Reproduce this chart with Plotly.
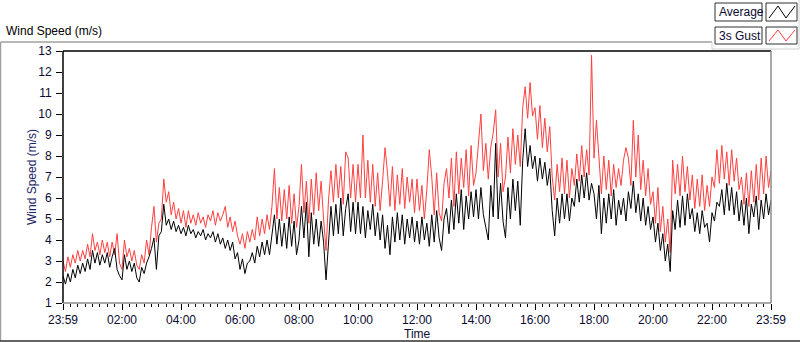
import numpy as np
import plotly.graph_objects as go

# ---------------- data (5-minute samples, 23:59 -> 23:59) ----------------
avg_speed = [
    2.3, 1.9, 2.4, 2.0, 2.6, 2.2, 2.8, 2.4, 2.9, 2.5, 3.1, 2.6,
    3.5, 2.9, 3.4, 2.8, 3.3, 2.9, 3.4, 2.7, 3.2, 3.6, 2.6, 2.3,
    2.1, 3.3, 2.6, 3.0, 2.5, 2.9, 2.2, 2.0, 2.7, 2.4, 2.9, 3.2,
    3.6, 4.1, 2.6, 4.2, 4.4, 5.7, 4.7, 5.0, 4.5, 4.9, 4.4, 4.7,
    4.3, 4.6, 4.2, 4.7, 4.3, 4.5, 4.1, 4.4, 4.2, 4.5, 4.0, 4.3,
    4.1, 4.4, 3.9, 4.3, 3.8, 4.1, 3.6, 4.0, 3.5, 3.9, 3.1, 3.4,
    2.6, 3.1, 2.4, 2.9, 3.0, 3.4, 2.9, 3.7, 3.2, 3.9, 3.3, 4.0,
    3.3, 4.2, 5.2, 3.8, 5.0, 3.7, 4.8, 3.6, 5.1, 3.7, 4.9, 3.3,
    4.0, 5.6, 4.1, 5.8, 3.2, 5.3, 3.8, 5.0, 3.7, 4.9, 3.9, 2.1,
    4.0, 5.6, 4.2, 5.7, 4.3, 6.0, 4.2, 5.5, 6.2, 4.4, 5.8, 4.3,
    5.8, 4.3, 5.6, 4.1, 5.4, 4.5, 5.7, 4.2, 5.3, 4.0, 5.2, 3.6,
    4.7, 3.3, 5.1, 3.9, 5.3, 4.0, 5.2, 3.8, 5.0, 4.1, 5.1, 3.9,
    4.9, 3.8, 5.1, 4.0, 4.8, 3.7, 5.2, 3.9, 5.4, 4.1, 3.5, 5.0,
    5.5, 4.3, 5.9, 4.5, 6.2, 4.8, 6.4, 4.5, 6.1, 5.0, 6.3, 5.1,
    6.4, 5.0, 6.5, 5.2, 4.6, 4.0, 6.6, 5.1, 8.6, 5.0, 6.7, 4.9,
    4.1, 6.5, 5.0, 6.9, 5.4, 6.8, 4.7, 7.8, 9.3, 7.5, 8.5, 7.4,
    8.0, 6.8, 7.9, 6.9, 7.7, 6.6, 7.4, 5.4, 4.2, 6.0, 4.8, 6.2,
    5.0, 6.2, 4.9, 6.0, 5.6, 6.9, 5.8, 7.1, 6.0, 7.2, 5.9, 6.7,
    6.2, 5.0, 6.6, 4.3, 6.0, 4.8, 6.2, 5.0, 6.4, 4.7, 5.9, 5.2,
    6.0, 4.9, 6.3, 5.5, 6.8, 5.3, 6.2, 4.9, 6.0, 4.7, 5.6, 4.5,
    5.1, 3.9, 4.8, 3.5, 4.3, 3.0, 3.8, 2.5, 5.4, 4.5, 5.9, 4.6,
    6.1, 4.7, 6.2, 5.0, 5.5, 4.4, 5.3, 4.3, 5.4, 4.6, 4.8, 3.9,
    5.3, 4.9, 5.8, 5.6, 6.4, 5.2, 6.7, 5.4, 6.5, 5.2, 6.3, 4.9,
    5.9, 4.7, 6.0, 4.3, 5.7, 5.1, 6.1, 4.5, 5.9, 5.0, 6.2, 5.2,
    5.9,
]

gust_speed = [
    3.0, 2.5, 3.2, 2.7, 3.3, 2.9, 3.5, 3.0, 3.5, 3.1, 3.8, 3.2,
    4.3, 3.5, 3.9, 3.3, 4.0, 3.4, 3.9, 3.2, 3.9, 3.3, 4.3, 2.9,
    2.6, 4.0, 3.2, 3.6, 3.0, 3.5, 2.8, 2.6, 3.3, 2.9, 4.0, 3.3,
    4.6, 5.6, 3.9, 4.8, 5.0, 6.9, 5.8, 6.3, 5.2, 5.8, 5.0, 5.5,
    4.8, 5.4, 4.6, 5.4, 4.8, 5.2, 4.7, 5.3, 4.8, 5.1, 4.6, 5.2,
    4.9, 5.4, 4.7, 5.3, 4.9, 5.2, 5.6, 4.6, 5.1, 4.4, 4.9, 4.2,
    3.8, 4.3, 3.6, 4.4, 3.9, 4.5, 4.0, 5.1, 4.2, 5.0, 4.3, 5.2,
    4.5, 5.6, 7.4, 5.0, 6.5, 4.9, 6.4, 5.0, 6.6, 4.8, 6.2, 4.6,
    5.6, 7.6, 5.3, 6.8, 4.8, 6.9, 5.2, 7.2, 5.4, 6.8, 5.0, 3.5,
    5.9, 7.3, 5.8, 7.6, 6.0, 7.5, 5.7, 8.2, 7.9, 6.0, 7.6, 5.8,
    7.6, 6.0, 9.0, 6.0, 7.8, 5.8, 7.6, 5.6, 7.2, 5.4, 6.8, 8.4,
    7.2, 5.6, 7.5, 5.4, 7.1, 5.7, 7.4, 5.5, 7.0, 5.8, 6.9, 5.3,
    6.9, 5.4, 6.6, 5.0, 6.4, 8.3, 7.0, 5.2, 7.2, 5.3, 4.9, 6.7,
    7.4, 6.0, 7.9, 5.6, 8.2, 6.2, 7.9, 6.5, 8.3, 6.1, 8.5, 6.6,
    7.2, 8.6, 10.0, 7.3, 8.6, 6.9, 8.4, 9.1, 10.2, 7.0, 8.6, 6.3,
    7.0, 8.9, 7.2, 9.3, 7.6, 9.0, 7.5, 10.3, 11.3, 9.8, 11.5, 9.9,
    10.3, 8.8, 10.4, 8.4, 9.8, 8.2, 9.4, 7.0, 5.9, 7.6, 6.3, 7.9,
    6.2, 7.8, 6.0, 7.4, 6.6, 8.1, 6.8, 8.5, 7.0, 8.3, 7.1, 12.8,
    7.9, 9.7, 7.7, 6.2, 8.0, 6.4, 7.8, 6.1, 7.6, 6.5, 7.4, 6.6,
    7.8, 8.4, 7.9, 6.6, 9.7, 7.0, 9.0, 6.4, 7.8, 6.1, 7.4, 5.7,
    6.3, 4.8, 6.5, 4.4, 5.6, 3.9, 5.0, 3.4, 7.8, 6.2, 7.6, 6.1,
    8.0, 6.3, 7.5, 5.9, 7.1, 5.5, 6.9, 5.6, 7.1, 5.4, 6.6, 5.6,
    7.0, 6.5, 8.3, 6.7, 8.5, 6.9, 8.2, 6.6, 8.3, 6.8, 7.9, 6.4,
    7.0, 5.7, 7.2, 5.6, 7.3, 5.8, 7.6, 5.9, 7.9, 6.2, 8.0, 6.5,
    7.3,
]

sample_minutes = 5
time_hours = np.arange(len(avg_speed)) * sample_minutes / 60.0

x_tick_vals = [0, 2, 4, 6, 8, 10, 12, 14, 16, 18, 20, 22, 24]
x_tick_text = ["23:59", "02:00", "04:00", "06:00", "08:00", "10:00", "12:00",
               "14:00", "16:00", "18:00", "20:00", "22:00", "23:59"]
y_tick_vals = list(range(1, 14))

series_names = ["Average", "3s Gust"]
series_colors = ["#000000", "#ff4040"]

# ---------------- geometry ----------------
W, H = 800, 342
L, R, T, B = 63, 771, 51, 303


def px(x):
    return (x - L) / (R - L)


def py(y):
    return (B - y) / (B - T)


FONT = "Liberation Sans, Arial, sans-serif"
TXT = "#0a0a30"

fig = go.Figure()
fig.add_trace(go.Scatter(x=time_hours, y=gust_speed, mode="lines", name=series_names[1],
                         line=dict(color=series_colors[1], width=1), hoverinfo="skip"))
fig.add_trace(go.Scatter(x=time_hours, y=avg_speed, mode="lines", name=series_names[0],
                         line=dict(color=series_colors[0], width=1), hoverinfo="skip"))

shapes = []


def line(x0, y0, x1, y1, color, width=1, layer="above"):
    shapes.append(dict(type="line", xref="paper", yref="paper",
                       x0=px(x0), y0=py(y0), x1=px(x1), y1=py(y1),
                       line=dict(color=color, width=width), layer=layer))


def rect(x0, y0, x1, y1, color, width=1, fill="rgba(0,0,0,0)"):
    shapes.append(dict(type="rect", xref="paper", yref="paper",
                       x0=px(x0), y0=py(y0), x1=px(x1), y1=py(y1),
                       line=dict(color=color, width=width), fillcolor=fill, layer="above"))


# plot-area borders
line(L, T, R, T, "#000000", 1.5)
line(L, T, L, B, "#000000", 1.5)
line(R, T, R, B, "#8c8c8c", 1.5)
line(L, B, R, B, "#8c8c8c", 1.5)

# outer frame
line(0.5, 42, 712, 42, "#a0a0a0", 1.5)
line(0.5, 42, 0.5, 341, "#a0a0a0", 1.5)
line(0, 341, 800, 341, "#303030", 1.5)
# legend panel
line(712, 42, 712, 49, "#d0d0d0", 1)
line(712, 49, 799, 49, "#d0d0d0", 1)
line(799, 0, 799, 49, "#d0d0d0", 1)

annotations = []
legend_rows = [(3, 21), (27, 44)]
for (ya, yb), name, col in zip(legend_rows, series_names, series_colors):
    rect(715, ya, 762, yb, "#303030", 1)
    rect(766, ya, 797, yb, "#303030", 1)
    pts = [(769, yb - 3), (778, ya + 3), (786, yb - 3), (795, ya + 3)]
    path = "M " + " L ".join(f"{px(a)},{py(b)}" for a, b in pts)
    shapes.append(dict(type="path", xref="paper", yref="paper", path=path,
                       line=dict(color=col, width=1), layer="above"))
    annotations.append(dict(text=name, xref="paper", yref="paper",
                            x=px(717), y=py((ya + yb) / 2), xanchor="left", yanchor="middle",
                            showarrow=False, font=dict(family=FONT, size=12, color=TXT)))

annotations.append(dict(text="Wind Speed (m/s)", xref="paper", yref="paper",
                        x=px(4), y=py(31), xanchor="left", yanchor="middle",
                        showarrow=False, font=dict(family=FONT, size=12, color="#000000")))
annotations.append(dict(text="Time", xref="paper", yref="paper",
                        x=px(418), y=py(334), xanchor="center", yanchor="middle",
                        showarrow=False, font=dict(family=FONT, size=12, color=TXT)))
annotations.append(dict(text="Wind Speed (m/s)", xref="paper", yref="paper",
                        x=px(32), y=py(177), xanchor="center", yanchor="middle", textangle=-90,
                        showarrow=False, font=dict(family=FONT, size=12, color="#1a2466")))

fig.update_layout(
    width=W, height=H,
    margin=dict(l=L, r=W - R, t=T, b=H - B, pad=0),
    paper_bgcolor="white", plot_bgcolor="white",
    showlegend=False,
    shapes=shapes, annotations=annotations,
    font=dict(family=FONT, size=11, color=TXT),
    xaxis=dict(range=[0, 24], tickmode="array", tickvals=x_tick_vals, ticktext=x_tick_text,
               ticks="outside", ticklen=6, tickcolor="#000000", tickwidth=1,
               ticklabelstandoff=0, automargin=False,
               showgrid=False, zeroline=False, showline=False,
               tickfont=dict(family=FONT, size=12, color=TXT),
               minor=dict(tickmode="linear", tick0=0, dtick=0.25, ticks="outside",
                          ticklen=3, tickcolor="#000000", tickwidth=1, showgrid=False)),
    yaxis=dict(range=[1, 13], tickmode="array", tickvals=y_tick_vals,
               ticks="outside", ticklen=6, tickcolor="#000000", tickwidth=1,
               ticklabelstandoff=2, automargin=False,
               showgrid=False, zeroline=False, showline=False,
               tickfont=dict(family=FONT, size=12, color=TXT)),
)

fig.write_html("out.html", config={"displayModeBar": False, "staticPlot": True},
               post_script="document.body.style.margin='0px';document.body.style.overflow='hidden';")
